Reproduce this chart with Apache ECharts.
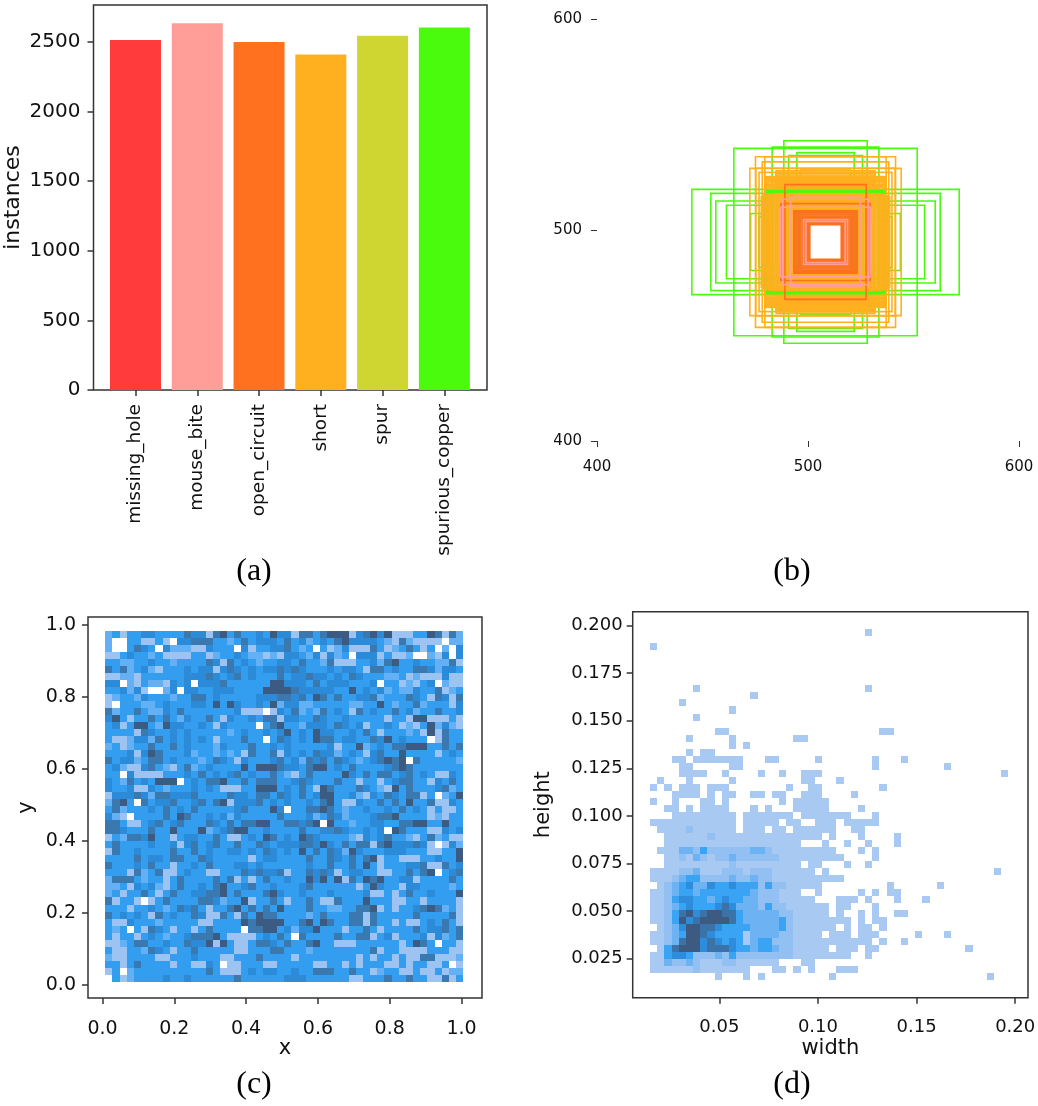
<html>

<head>
    <script src="https://cdn.jsdelivr.net/npm/echarts@6/dist/echarts.min.js"></script>

    <style>
        body {
            margin: 0;
            background: #fff
        }
        #chart {
            width: 1038px;
            height: 1106px;
        }
    </style>
</head>

<body>
    <div id="chart"></div>

    <script>
        // (a) instances per class
        const categories = ['missing_hole', 'mouse_bite', 'open_circuit', 'short', 'spur', 'spurious_copper'];
        const instances = [2515, 2635, 2500, 2410, 2545, 2605];
        const classColors = ['#ff3b3b', '#ff9e98', '#ff701f', '#ffb01f', '#cfd631', '#4bfb0d'];

        // (b) anchor boxes, [width, height] around one centre
        const boxCentre = [508.3, 494.3];
        const copperBoxes = [
            [126.7, 49.9], [108.7, 46.1], [104, 38.9], [93.9, 34.8], [86.9, 88.8], [50.6, 90], [39.5, 96],
            [27.2, 84.7], [35, 82], [23.7, 68.3], [71, 27], [63, 24], [60, 33]
        ];
        const shortBoxes = [
            [66.4, 80.9], [71.7, 69.8], [57.5, 80.9], [60, 76], [66, 70], [63, 66],
            [31, 30.5], [32.2, 31.6], [33.4, 32.7], [34.6, 33.8], [35.8, 34.9], [37, 36], [38.2, 37.1], [39.4, 38.2],
            [40.6, 39.3], [41.8, 40.4], [43, 41.5], [44.2, 42.6], [45.4, 43.7], [46.6, 44.8], [47.8, 45.9], [49, 46.6],
            [51.4, 50],
            [46.8, 50.4], [46.8, 51.6], [46.8, 52.8], [46.8, 54], [46.8, 55.2], [46.8, 56.4], [46.8, 57.6], [46.8, 58.8],
            [46.8, 60], [46.8, 61.2], [46.8, 62.4], [46.8, 63.6], [46.8, 64.8], [46.8, 66], [46.8, 67.6],
            [57, 50], [57, 51.2], [57, 52.4], [57, 53.6], [57, 54.8], [57, 56], [57, 57.2], [57, 58.4], [57, 59.6], [57, 60.8], [57, 62],
            [52.5, 46], [53.7, 46], [54.9, 45], [56.1, 45], [57.3, 44], [58.5, 44], [59.7, 43], [60.9, 43]
        ];
        const copperBandBoxes = [[54, 48.3], [53, 48], [52, 48.6], [50, 47.8], [56, 48.9], [55, 47.4]];
        const shortOverBandBoxes = [[49.5, 45], [50.7, 45], [51.9, 45], [53.1, 45], [54.3, 45], [55.5, 45], [56.7, 45]];
        const openBoxes = [
            [14.9, 16.4], [16.1, 17.5], [17.3, 18.6], [18.5, 19.6], [19.7, 20.6], [20.9, 21.6], [22.1, 22.6],
            [23.3, 23.6], [24.5, 24.6], [25.7, 25.6], [26.9, 26.6], [28.1, 27.6], [29.3, 28.6], [30, 29.6],
            [38.5, 54.4], [42.4, 36.4]
        ];
        const biteBoxes = [[18.6, 19.4], [20.8, 21.2], [40.5, 40.5], [42.5, 33], [33, 42.5]];

        // (c) x/y histogram, shade level per bin, top row first
        const xyShades = ['#ffffff', '#9dc3f3', '#63b0f5', '#339df0', '#2b8bd8', '#3a78b0', '#3c5b82'];
        const xyRows = [
            '2313344333 3544156353 3436441553 5666145646 1113365152',
            '2003311310 4455533235 3444353423 4356444432 1521111022',
            '2003543042 2211433304 1334453230 3124111531 2353130204',
            '1134332311 1133123343 2212144324 1423044413 1120021404',
            '3322334332 3333541534 3233443533 2511133425 6334332251',
            '5352342133 3434414543 4344545433 3434431553 4335542443',
            '1122133333 3444543453 4333534454 4343543332 2312111411',
            '4402132214 3404445333 3336644435 3444333403 3121340211',
            '3342410024 0443344433 3366665444 4433634342 3224335123',
            '1233243332 3355343333 3444554536 5353344523 3354315415',
            '1033322343 3344363643 3436244223 3333223363 2335233314',
            '5233532243 5333333341 1101435232 5343153433 5342335334',
            '4631335353 2433531433 4355144335 4334333331 3316611131',
            '3413663264 4334314333 3035633244 4354341334 3121362421',
            '3333154334 3433333234 3343463436 4433435313 3323161533',
            '3112442534 3434313335 3303543436 5534433546 3433301533',
            '2312335335 3433324333 5334343333 3413362343 5566633535',
            '3334146533 3423323231 5335143435 4423431453 3633331343',
            '5344235534 3332354314 3334534254 5354323456 5605333332',
            '3421145321 3523433336 3666544356 6343533334 5653333333',
            '3304111133 3435343453 4335321353 3336435355 3453431143',
            '4325343666 0343556335 3555334543 3353313313 4553314353',
            '4334114323 3343431113 3666343531 6533354321 6353334523',
            '1444542554 4453333544 3553543534 6633421435 4355130236',
            '2563053445 3345356144 4534343343 5631143353 5363351143',
            '3523334353 4353333345 3336403355 6532334334 3534313113',
            '4210333353 6533434243 3333533342 3542333455 6333312133',
            '5531134534 5333543535 5663355456 0633233443 3556633633',
            '5543335336 3336234566 3343333533 4454334340 6533311434',
            '1325546331 3443353113 4365343654 3333214345 3321352311',
            '3533334334 1453453353 3543444554 6435355156 4445410142',
            '1533433335 3353433443 4354343635 3542643334 4433311336',
            '3333534435 5335433333 1344333353 3543535613 3111334336',
            '5333435331 3343533344 3433333343 3533536313 3344511534',
            '3331523511 3433113335 4544513354 5413443311 3353560345',
            '2555323313 5333353513 1353343364 6361536563 3441333353',
            '2231434213 5334356334 5334333453 3333313643 3144333323',
            '2313353135 3344556353 3356433433 3433334113 1353343336',
            '5133101353 3335542336 1335313353 1153336333 1133133331',
            '3331334323 5453133563 5353633353 3223355613 1334565231',
            '5343431534 3354115315 3655333323 5333551533 3335333351',
            '3114333233 3331133336 5666633563 6533551533 1311343531',
            '3230315431 3313533330 5566342446 3331335313 3335344535',
            '3133134323 3455563111 1343530533 3353355134 1333414235',
            '1123553343 3544616311 3554353356 3311133333 3136530331',
            '3113325431 3353333311 3335533323 3333333513 3111133311',
            '2113333113 3343331133 3533331333 3333313133 1311551112',
            '3313533331 3311430113 3311333331 1331313331 1313311301',
            '1302333333 3333531113 4344334335 5533533123 3113113122',
            '0312333343 3433333353 3333344433 3333113335 3353311513'
        ];

        // (d) width/height histogram, shade level per bin, top row first
        const whShades = ['#ffffff', '#a8c9f1', '#93c0f2', '#6db3f4', '#39a3f4', '#2d8cdb', '#3b73a8', '#3d5a80'];
        const whRows = [
            '0000000000 0000000000 0000000000 1000000000 0000000000',
            '0000000000 0000000000 0000000000 0000000000 0000000000',
            '1000000000 0000000000 0000000000 0000000000 0000000000',
            '0000000000 0000000000 0000000000 0000000000 0000000000',
            '0000000000 0000000000 0000000000 0000000000 0000000000',
            '0000000000 0000000000 0000000000 0000000000 0000000000',
            '0000000000 0000000000 0000000000 0000000000 0000000000',
            '0000000000 0000000000 0000000000 0000000000 0000000000',
            '0000001000 0000000000 0000000000 1000000000 0000000000',
            '0000000000 0000100000 0000000000 0000000000 0000000000',
            '0000100000 0000000000 0000000000 0000000000 0000000000',
            '0000000000 0100000000 0000000000 0000000000 0000000000',
            '0000001000 0000000000 0000000000 0000000000 0000000000',
            '0000000000 0000000000 0000000000 0000000000 0000000000',
            '0000000001 1000000000 0000000000 0011000000 0000000000',
            '0000010000 0100000000 1100000000 0000000000 0000000000',
            '0000000000 0101000000 0000000000 0000000000 0000000000',
            '0000010110 0000000000 0000000000 0000000000 0000000000',
            '0001101111 1110001100 0001000000 0100010000 0000000000',
            '0000110000 0110000000 0000000000 0100000000 0100000000',
            '0000111100 1000010010 0111000000 0000000000 0000000001',
            '0100010000 0100000000 0110001000 0000000000 0000000000',
            '1010111011 1000000001 0011000000 0010000000 0000000000',
            '0001111010 1100110110 0111000010 0000000000 0000000000',
            '1001000110 1000000010 1111100000 0000000000 0000000000',
            '0011010111 1000101000 1111100001 0000000000 0000000000',
            '0001111111 1101111111 0111111100 0100000000 0000000000',
            '1111111111 1101111101 1001110111 1100000000 0000000000',
            '0111121111 1101110110 1111110011 0000000000 0000000000',
            '0011111121 1111111111 1111010001 0000100000 0000000000',
            '0011111111 1111111111 1000100100 1000100000 0000000000',
            '0111332422 2222332111 1111110001 0100000000 0000000000',
            '0011213212 2322222211 1111111000 0100000000 0000000000',
            '0011111111 1211111111 1011000100 1000000000 0000000000',
            '1111223111 2221222111 1110100000 0000000000 0000000010',
            '1112344222 2322322111 1111111000 0000000000 0000000000',
            '0123453354 4544424221 1111000000 0001000000 1000000000',
            '1123443444 4444322211 1001000001 0101100000 0000000000',
            '1124554434 5443322211 1110001110 1000100010 0000000000',
            '1123454445 6533324221 1111101100 0100000000 0000000000',
            '1124675677 6643333322 1111101001 0100110000 0000000000',
            '1124756777 7643333342 1111111101 0110000000 0000000000',
            '0123577665 4444333342 1111110101 1010000000 0000000000',
            '1123477654 4441333322 1111011101 1100000100 0100000000',
            '1123677565 4541344222 1111111111 1010010000 0000000000',
            '0146777566 6544344322 1111101110 1100000000 0000100000',
            '1145542223 2422222222 1111111100 1000000000 0000000000',
            '1132232111 2211111100 0110000000 0000000000 0000000000',
            '1111112111 1111000110 1010001110 0000000000 0000000000',
            '0000000001 0001010000 0000010000 0000000000 0000000100'
        ];

        const textColor = '#111';
        const lineColor = '#333';

        const toCells = (rows, x0, yTop, binW, binH) => {
            const cells = [];
            rows.forEach((row, r) => {
                row.replace(/ /g, '').split('').forEach((level, c) => {
                    if (level !== '0') {
                        cells.push([x0 + c * binW, yTop - r * binH, +level]);
                    }
                });
            });
            return cells;
        };

        const cellSeries = (index, rows, shades, x0, yTop, binW, binH) => ({
            type: 'custom',
            xAxisIndex: index,
            yAxisIndex: index,
            silent: true,
            encode: { x: 0, y: 1 },
            data: toCells(rows, x0, yTop, binW, binH),
            renderItem: (params, api) => {
                const a = api.coord([api.value(0), api.value(1)]);
                const b = api.coord([api.value(0) + binW, api.value(1) - binH]);
                const x = Math.round(a[0]);
                const y = Math.round(a[1]);
                return {
                    type: 'rect',
                    shape: { x: x, y: y, width: Math.round(b[0]) - x, height: Math.round(b[1]) - y },
                    style: { fill: shades[api.value(2)] }
                };
            }
        });

        const boxSeries = (boxes, color) => ({
            type: 'custom',
            xAxisIndex: 1,
            yAxisIndex: 1,
            silent: true,
            encode: { x: 0, y: 1 },
            data: boxes,
            renderItem: (params, api) => {
                const w = api.value(0);
                const h = api.value(1);
                const a = api.coord([boxCentre[0] - w / 2, boxCentre[1] + h / 2]);
                const b = api.coord([boxCentre[0] + w / 2, boxCentre[1] - h / 2]);
                return {
                    type: 'rect',
                    shape: { x: a[0], y: a[1], width: b[0] - a[0], height: b[1] - a[1] },
                    style: { fill: null, stroke: color, lineWidth: 1.6 }
                };
            }
        });

        const axis = (opts) => ({
            type: 'value',
            gridIndex: opts.grid,
            min: opts.min,
            max: opts.max,
            splitLine: { show: false },
            axisLine: { show: false, onZero: false },
            axisTick: { show: true, length: 6, customValues: opts.ticks, lineStyle: { color: lineColor, width: opts.tickWidth || 1.5 } },
            axisLabel: {
                show: true,
                customValues: opts.ticks,
                formatter: opts.format,
                color: textColor,
                fontFamily: 'DejaVu Sans',
                fontSize: opts.fontSize,
                rotate: opts.rotate || 0,
                margin: opts.margin
            },
            name: opts.name,
            nameLocation: 'middle',
            nameGap: opts.nameGap,
            nameMoveOverlap: false,
            nameTextStyle: { color: textColor, fontFamily: 'DejaVu Sans', fontSize: opts.nameSize || 21 }
        });

        const captions = [['(a)', 249, 542], ['(b)', 787, 542], ['(c)', 249, 1055], ['(d)', 787, 1055]];

        const frame = { show: true, borderColor: lineColor, borderWidth: 1.5, backgroundColor: 'transparent' };

        const option = {
            animation: false,
            backgroundColor: '#fff',
            title: captions.map(c => ({
                text: c[0],
                left: c[1],
                top: c[2],
                textAlign: 'center',
                textStyle: { fontFamily: 'Liberation Serif', fontWeight: 'normal', fontSize: 32, color: '#000' }
            })),
            grid: [
                Object.assign({ left: 93.5, top: 5, width: 393.5, height: 385, outerBoundsMode: 'none' }, frame),
                { left: 597, top: 19, width: 422, height: 422, outerBoundsMode: 'none' },
                Object.assign({ left: 88, top: 617, width: 394, height: 381, outerBoundsMode: 'none' }, frame),
                Object.assign({ left: 632.7, top: 611.7, width: 395.3, height: 386, outerBoundsMode: 'none' }, frame)
            ],
            xAxis: [
                axis({ grid: 0, min: -0.68, max: 5.69, ticks: [0, 1, 2, 3, 4, 5], format: v => categories[v], fontSize: 18.5, rotate: 90, margin: 14 }),
                axis({ grid: 1, min: 400, max: 600, ticks: [400, 500, 600], format: v => String(v), fontSize: 15, tickWidth: 1, margin: 11 }),
                axis({ grid: 2, min: -0.0404, max: 1.0571, ticks: [0, 0.2, 0.4, 0.6, 0.8, 1], format: v => v.toFixed(1), fontSize: 19, margin: 12, name: 'x', nameGap: 30 }),
                axis({ grid: 3, min: 0.0061, max: 0.2065, ticks: [0.05, 0.1, 0.15, 0.2], format: v => v.toFixed(2), fontSize: 18, margin: 12, name: 'width', nameGap: 30 })
            ],
            yAxis: [
                axis({ grid: 0, min: 0, max: 2766, ticks: [0, 500, 1000, 1500, 2000, 2500], format: v => String(v), fontSize: 20, margin: 13, name: 'instances', nameGap: 58, nameSize: 22 }),
                axis({ grid: 1, min: 400, max: 600, ticks: [400, 500, 600], format: v => String(v), fontSize: 15, tickWidth: 1, margin: 15 }),
                axis({ grid: 2, min: -0.0361, max: 1.0222, ticks: [0, 0.2, 0.4, 0.6, 0.8, 1], format: v => v.toFixed(1), fontSize: 19, margin: 12, name: 'y', nameGap: 41 }),
                axis({ grid: 3, min: 0.00455, max: 0.2073, ticks: [0.025, 0.05, 0.075, 0.1, 0.125, 0.15, 0.175, 0.2], format: v => v.toFixed(3), fontSize: 18, margin: 10, name: 'height', nameGap: 68 })
            ],
            series: [
                {
                    type: 'bar',
                    xAxisIndex: 0,
                    yAxisIndex: 0,
                    barWidth: 51,
                    silent: true,
                    data: instances.map((v, i) => ({ value: [i, v], itemStyle: { color: classColors[i] } }))
                },
                boxSeries(copperBoxes, classColors[5]),
                boxSeries(shortBoxes, classColors[3]),
                boxSeries(copperBandBoxes, classColors[5]),
                boxSeries(shortOverBandBoxes, classColors[3]),
                boxSeries(openBoxes, classColors[2]),
                boxSeries(biteBoxes, classColors[1]),
                cellSeries(2, xyRows, xyShades, 0.0078, 0.9833, 0.01994, 0.01948),
                cellSeries(3, whRows, whShades, 0.0149, 0.1981, 0.003634, 0.00369)
            ]
        };

        const myChart = echarts.init(document.getElementById('chart'));
        myChart.setOption(option);
    </script>
</body>

</html>
